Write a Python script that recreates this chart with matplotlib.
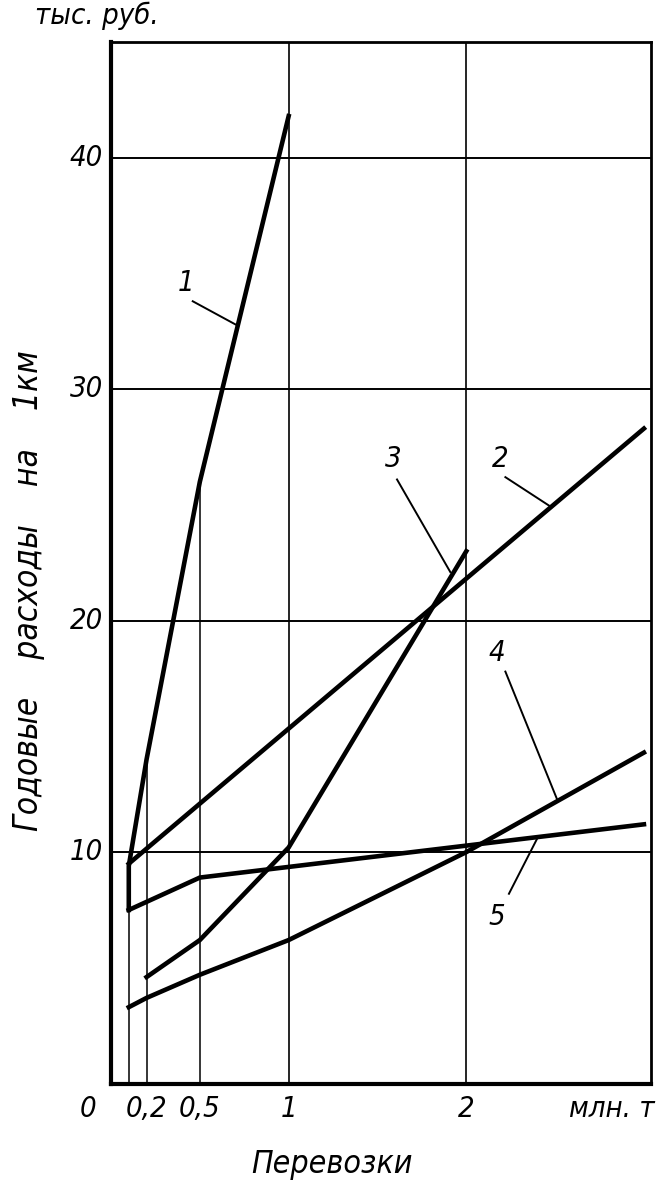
import matplotlib
matplotlib.use("Agg")
from matplotlib import pyplot as plt

# кривые 1..5 (перевозки, млн. т -> расходы, тыс. руб.)
x1 = [0.1, 0.1, 0.2, 0.5, 1.0]
y1 = [7.5, 9.4, 14.0, 26.0, 41.8]
x2 = [0.1, 3.0]
y2 = [9.5, 28.3]
x3 = [0.2, 0.5, 1.0, 2.0]
y3 = [4.6, 6.2, 10.2, 23.0]
x4 = [0.1, 0.2, 0.5, 1.0, 2.0, 3.0]
y4 = [3.3, 3.7, 4.7, 6.2, 10.0, 14.3]
x5 = [0.1, 0.5, 3.0]
y5 = [7.5, 8.9, 11.2]

# вертикальные линии до кривых
drop_x = [0.1, 0.2, 0.5]
drop_top = [7.5, 14.0, 26.0]
grid_x = [1, 2]
grid_y = [10, 20, 30, 40]

xtick_pos = [-0.13, 0.2, 0.5, 1, 2]
xtick_lab = ["0", "0,2", "0,5", "1", "2"]
ytick_pos = [10, 20, 30, 40]

# номера кривых и выноски
lab_text = ["1", "2", "3", "4", "5"]
lab_xy = [(0.42, 34.6), (2.19, 27.0), (1.59, 27.0), (2.17, 18.6), (2.17, 7.2)]
lead_from = [(0.46, 33.8), (2.22, 26.2), (1.61, 26.1), (2.22, 17.8), (2.24, 8.2)]
lead_to = [(0.70, 32.8), (2.48, 24.9), (1.91, 22.1), (2.51, 12.3), (2.40, 10.6)]

font = ["Liberation Sans Narrow", "DejaVu Sans"]
plt.rcParams["font.family"] = font
plt.rcParams["font.style"] = "italic"
plt.rcParams["font.stretch"] = "condensed"

fig = plt.figure(figsize=(6.7, 11.94), dpi=100)
ax = fig.add_axes([0.1657, 0.0925, 0.806, 0.8723])
ax.set_xlim(0, 3.04)
ax.set_ylim(0, 45)

for gy in grid_y:
    ax.axhline(gy, color="k", lw=1.4)
for gx in grid_x:
    ax.axvline(gx, color="k", lw=1.2)
for dx, dt in zip(drop_x, drop_top):
    ax.plot([dx, dx], [0, dt], color="k", lw=1.1)

for xs, ys in [(x1, y1), (x2, y2), (x3, y3), (x4, y4), (x5, y5)]:
    ax.plot(xs, ys, color="k", lw=3.3, solid_joinstyle="miter")

for t, (lx, ly), a, b in zip(lab_text, lab_xy, lead_from, lead_to):
    ax.text(lx, ly, t, fontsize=21, ha="center", va="center")
    ax.plot([a[0], b[0]], [a[1], b[1]], color="k", lw=1.4)

ax.set_xticks([])
ax.set_yticks([])
for p, l in zip(xtick_pos, xtick_lab):
    ax.text(p, -1.1, l, fontsize=21, ha="center", va="center", clip_on=False)
ax.text(2.82, -1.1, "млн. т", fontsize=21, ha="center", va="center", clip_on=False)
for p in ytick_pos:
    ax.text(-0.14, p, str(p), fontsize=21, ha="center", va="center", clip_on=False)

ax.spines["left"].set_linewidth(3.0)
ax.spines["bottom"].set_linewidth(3.0)
ax.spines["top"].set_linewidth(2.0)
ax.spines["right"].set_linewidth(2.0)

fig.text(0.145, 0.987, "тыс. руб.", fontsize=21, ha="center", va="center")
fig.text(0.042, 0.505, "Годовые    расходы    на    1км", fontsize=24,
         rotation=90, ha="center", va="center")
fig.text(0.495, 0.025, "Перевозки", fontsize=23, ha="center", va="center")

fig.savefig("out.png", dpi=100)
